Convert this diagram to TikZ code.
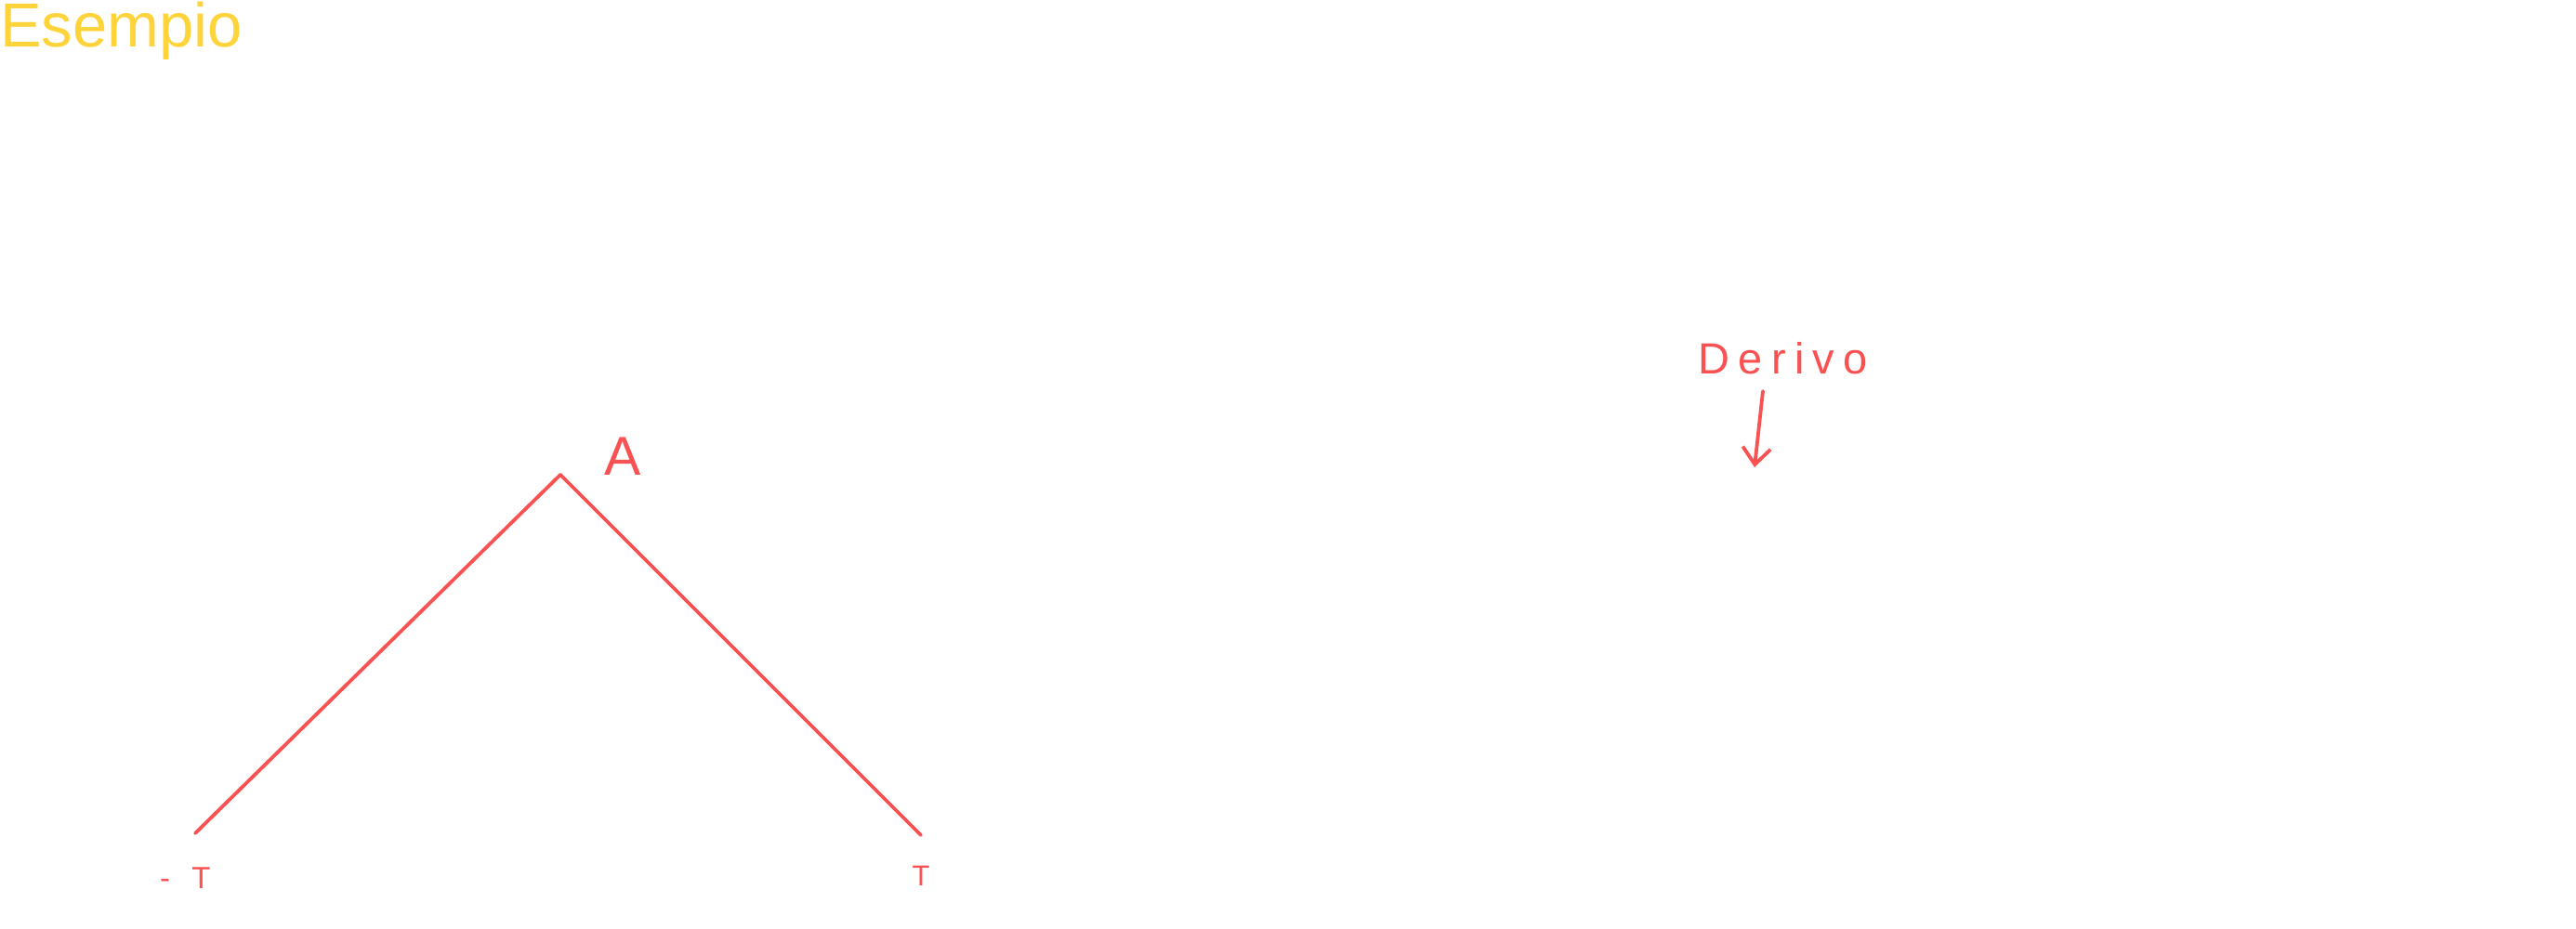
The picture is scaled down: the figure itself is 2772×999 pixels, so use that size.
\documentclass[tikz,border=0pt]{standalone}
\usepackage{fontspec}
\setmainfont{Liberation Sans}
\usetikzlibrary{arrows.meta}
\definecolor{exred}{HTML}{FA5252}
\definecolor{exyellow}{HTML}{FFD43B}
\begin{document}
\begin{tikzpicture}[x=1pt,y=-1pt,
  lbl/.style={inner sep=0pt, anchor=base, text=exred},
  edge/.style={draw=exred, line width=3.8pt, line cap=round, line join=round}]
\fill[white] (0,0) rectangle (2772,999);
\useasboundingbox (0,0) rectangle (2772,999);
% title
\node[anchor=base west, inner sep=0pt, text=exyellow,
      font={\fontsize{67pt}{67pt}\selectfont}] (title) at (0,50) {Esempio};
% tree
\coordinate (apex) at (603,511);
\coordinate (left) at (210,897);
\coordinate (right) at (991,899);
\draw[edge] (apex) -- (left);
\draw[edge] (apex) -- (right);
\node[lbl, font={\fontsize{59pt}{59pt}\selectfont}] (A) at (670,511) {A};
\node[lbl, anchor=base west, font={\fontsize{33pt}{33pt}\selectfont\addfontfeature{LetterSpace=70}}] (Tl) at (172,956) {-T};
\node[lbl, font={\fontsize{31pt}{31pt}\selectfont}] (Tr) at (991,953) {T};
% Derivo
\node[lbl, anchor=base west, font={\fontsize{47pt}{47pt}\selectfont\addfontfeature{LetterSpace=20}}] (der) at (1827,402) {Derivo};
\coordinate (tip) at (1888,503);
\draw[edge, -{Straight Barb[length=18pt,width=30pt]}] ([shift={(70,19)}]der.base west) -- (tip);
\end{tikzpicture}
\end{document}
